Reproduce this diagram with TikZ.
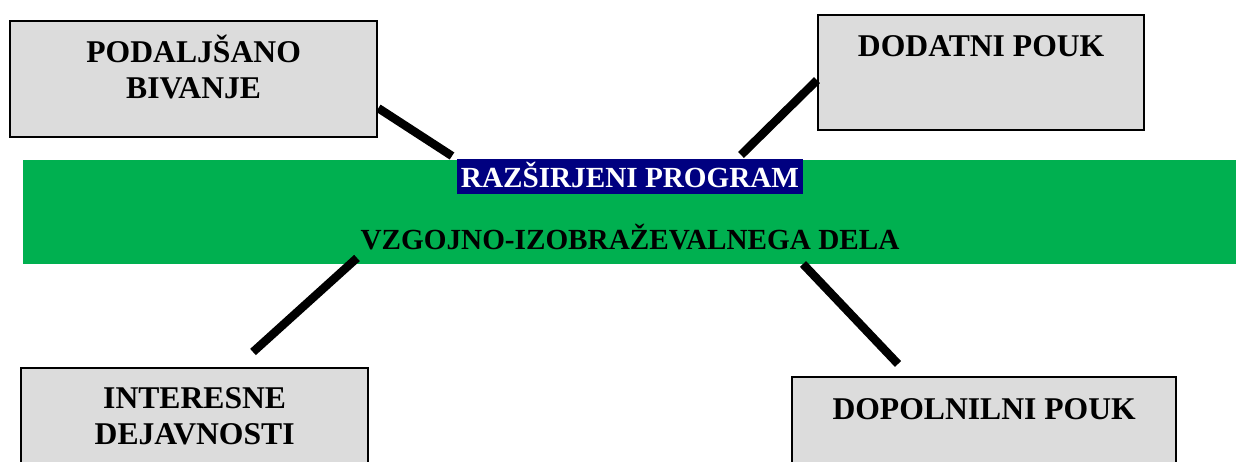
\documentclass[tikz,border=0pt]{standalone}
\usepackage{fontspec}
\setmainfont{Liberation Serif}
\usetikzlibrary{positioning,calc}
\definecolor{bandgreen}{RGB}{0,176,80}
\definecolor{boxgray}{RGB}{220,220,220}
\definecolor{navyhl}{RGB}{0,0,128}

\begin{document}
\begin{tikzpicture}[x=0.01cm, y=-0.01cm,
    box/.style={draw, line width=0.6pt, fill=boxgray, anchor=north west, inner sep=0pt},
    boxtext/.style={font=\bfseries\fontsize{9}{10.5}\selectfont, align=center, anchor=base, inner sep=0pt},
    bandtext/.style={font=\bfseries\fontsize{8.3}{10}\selectfont},
    link/.style={line width=2.4pt}]
    \clip (0,0) rectangle (1236,462);

    % Middle band
    \node[fill=bandgreen, anchor=north west, inner sep=0pt, minimum width=12.14cm, minimum height=1.04cm] (band) at (22,159) {};
    \node[bandtext, fill=navyhl, text=white, anchor=north,
        inner xsep=0.035cm, inner ysep=0pt, text height=0.29cm, text depth=0.06cm] (hl) at (630,158) {RAZŠIRJENI PROGRAM};
    \node[bandtext, anchor=base, inner sep=0pt] (vz) at (630,250) {VZGOJNO-IZOBRAŽEVALNEGA DELA};

    % Boxes
    \node[box, minimum width=3.67cm, minimum height=1.16cm] (pb) at (9,20) {};
    \node[boxtext] (pbt) at ($(pb.north)+(0,79)$) {PODALJŠANO\\BIVANJE};

    \node[box, minimum width=3.26cm, minimum height=1.15cm] (dp) at (817,14) {};
    \node[boxtext] (dpt) at ($(dp.north)+(0,43)$) {DODATNI POUK};

    \node[box, minimum width=3.47cm, minimum height=1.4cm] (id) at (20,367) {};
    \node[boxtext] (idt) at ($(id.north)+(0,78)$) {INTERESNE\\DEJAVNOSTI};

    \node[box, minimum width=3.84cm, minimum height=1.4cm] (dop) at (791,376) {};
    \node[boxtext] (dopt) at ($(dop.north)+(0,44)$) {DOPOLNILNI POUK};

    % Connectors
    \coordinate (c1) at (452,156);
    \coordinate (c2) at (741,155);
    \coordinate (c3a) at (357,258);
    \coordinate (c3b) at (253,352);
    \coordinate (c4a) at (803,264);
    \coordinate (c4b) at (898,364);
    \draw[link] ($(pb.south east)+(0,-30)$) -- (c1);
    \draw[link] ($(dp.south west)+(0,-51)$) -- (c2);
    \draw[link] (c3a) -- (c3b);
    \draw[link] (c4a) -- (c4b);
\end{tikzpicture}
\end{document}
